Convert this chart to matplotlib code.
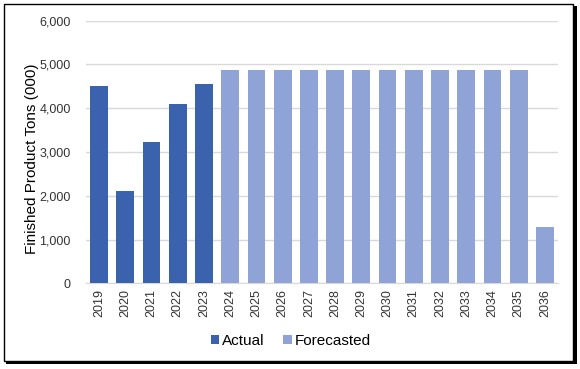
import matplotlib
matplotlib.use("Agg")
import matplotlib.pyplot as plt
from matplotlib.patches import Rectangle

years = [str(y) for y in range(2019, 2037)]
actual = [4510, 2110, 3230, 4100, 4550] + [0] * 13
forecast = [0] * 5 + [4870] * 12 + [1290]
yticks = [0, 1000, 2000, 3000, 4000, 5000, 6000]

plt.rcParams['font.family'] = ['Liberation Sans', 'DejaVu Sans']

fig = plt.figure(figsize=(5.8, 3.69), dpi=100)
ax = fig.add_axes([86/580, 1-283.3/369, (558-86)/580, (283.3-20.7)/369])

x = range(len(years))
ax.bar(x, actual, width=0.68, color='#3A62AD', label='Actual', zorder=3)
ax.bar(x, forecast, width=0.68, color='#8FA3D6', label='Forecasted', zorder=3)

ax.set_ylim(0, 6000)
ax.set_xlim(-0.5, len(years) - 0.5)
ax.set_yticks(yticks)
ax.set_yticklabels([f"{v:,}" for v in yticks], fontsize=9, color='#333333')
ax.set_xticks(list(x))
ax.set_xticklabels(years, rotation=90, fontsize=9, color='#333333')
ax.tick_params(length=0, pad=4)
ax.tick_params(axis='y', pad=11)
ax.grid(axis='y', color='#D9D9D9', linewidth=1, zorder=0)
for s in ['top', 'right', 'left']:
    ax.spines[s].set_visible(False)
ax.spines['bottom'].set_color('#D9D9D9')
fig.text(32/580, 1-159/369, 'Finished Product Tons (000)', fontsize=11,
         rotation=90, ha='center', va='center')

ax.legend(loc='center', bbox_to_anchor=(0.434, -0.22), ncol=2, frameon=False,
          fontsize=11, handlelength=0.55, handleheight=0.55, handletextpad=0.2,
          columnspacing=1.2, bbox_transform=ax.transAxes)

# border with shadow
fig.patches.append(Rectangle((6/580, 1-364/369), 571/580, 358/369, transform=fig.transFigure,
                             facecolor='black', edgecolor='none', zorder=-2))
fig.patches.append(Rectangle((4/580, 1-361/369), 569/580, 357/369, transform=fig.transFigure,
                             facecolor='white', edgecolor='black', linewidth=1, zorder=-1))

fig.savefig('out.png', dpi=100)
